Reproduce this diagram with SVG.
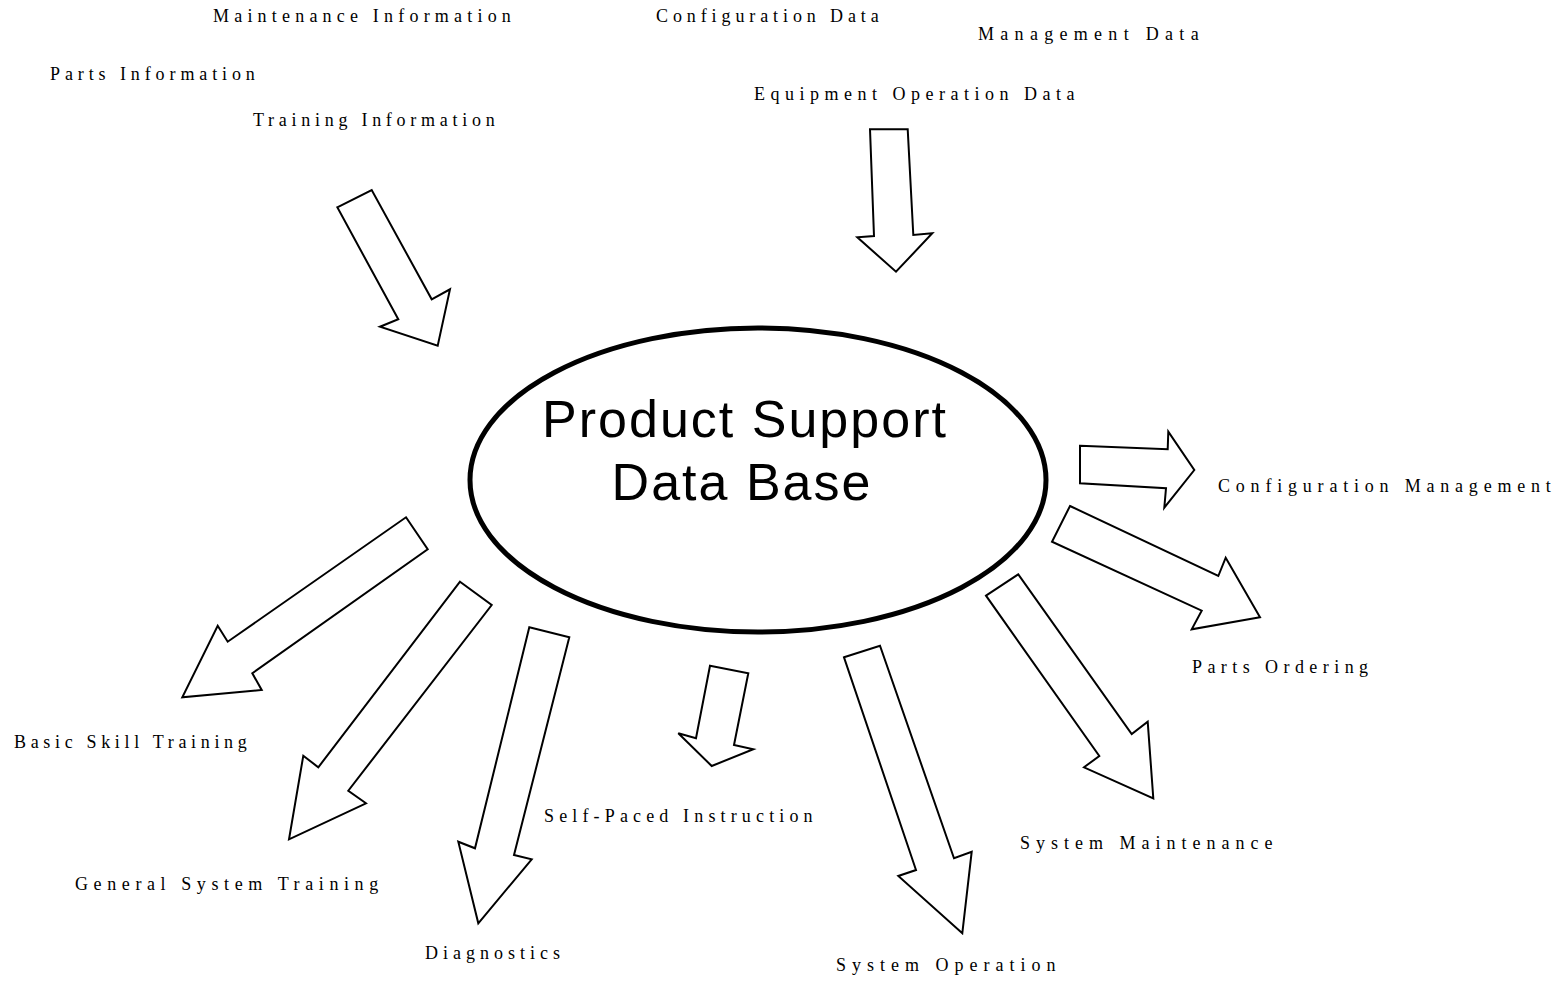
<svg xmlns="http://www.w3.org/2000/svg" width="1564" height="981" viewBox="0 0 1564 981">
<style>
.lbl{font-family:"Liberation Serif","Times New Roman",serif;font-size:18px;letter-spacing:5.2px;fill:#000}
.big{font-family:"Liberation Sans",Arial,sans-serif;font-size:52px;letter-spacing:2px;fill:#000;text-anchor:middle}
.arr{fill:#fff;stroke:#000;stroke-width:2;stroke-linejoin:miter}
</style>
<rect width="1564" height="981" fill="#fff"/>
<g id="db">
<ellipse cx="758" cy="480" rx="288" ry="152" fill="#fff" stroke="#000" stroke-width="5"/>
<text class="big" x="745" y="437">Product Support</text>
<text class="big" x="742" y="500">Data Base</text>
</g>
<g id="connectors">
<polygon class="arr" points="337.3,207.3 371.7,190 431.7,299.3 450,289.3 437.7,345.7 380,326.7 398.3,319.3"/>
<polygon class="arr" points="870,129.3 907.7,129.3 913.3,235 932.3,233.3 896,271.7 857.3,237.3 874,236"/>
<polygon class="arr" points="1080,445.7 1167.7,449.3 1168.3,431.7 1194.3,470 1164.3,507.7 1166,488.3 1080,483.3"/>
<polygon class="arr" points="1070,506 1218.3,576 1225.7,557.7 1260,617.3 1191.7,629.3 1201.7,610.7 1052,541.7"/>
<polygon class="arr" points="406,517.3 427.7,549.3 252.3,673.3 261.7,690 182.3,697.3 217.7,625.7 227.7,641.7"/>
<polygon class="arr" points="460,581.7 491.7,605 348.3,790.7 366,803.3 289,839.3 303.3,755.7 318.3,767.3"/>
<polygon class="arr" points="529.3,627.3 569.3,637.3 514,855 531.7,859.3 478.3,923.3 458.3,841.7 475,848.3"/>
<polygon class="arr" points="710,665.7 748.3,673.3 734,745 753.3,749.3 711.7,766 678.3,733.3 696,738.3"/>
<polygon class="arr" points="844,657.3 880,645.7 954,858.3 971.7,851.7 962.3,933.3 898.3,876 916,870"/>
<polygon class="arr" points="986,595.7 1018.3,574.3 1131.7,734 1147.7,721.7 1153.3,798.3 1084,767.3 1099.3,756"/>
</g>
<g id="labels-in">
<text class="lbl" x="213" y="22">Maintenance Information</text>
<text class="lbl" x="656" y="22" style="letter-spacing:4.9px">Configuration Data</text>
<text class="lbl" x="978" y="40" style="letter-spacing:6.3px">Management Data</text>
<text class="lbl" x="50" y="80" style="letter-spacing:4.9px">Parts Information</text>
<text class="lbl" x="754" y="100" style="letter-spacing:5.5px">Equipment Operation Data</text>
<text class="lbl" x="253" y="126" style="letter-spacing:4.73px">Training Information</text>
</g>
<g id="labels-out">
<text class="lbl" x="1218" y="492" style="letter-spacing:5.8px">Configuration Management</text>
<text class="lbl" x="1192" y="673" style="letter-spacing:5.43px">Parts Ordering</text>
<text class="lbl" x="14" y="748" style="letter-spacing:4.67px">Basic Skill Training</text>
<text class="lbl" x="544" y="822" style="letter-spacing:5.15px">Self-Paced Instruction</text>
<text class="lbl" x="1020" y="849" style="letter-spacing:6px">System Maintenance</text>
<text class="lbl" x="75" y="890" style="letter-spacing:5.6px">General System Training</text>
<text class="lbl" x="425" y="959" style="letter-spacing:5px">Diagnostics</text>
<text class="lbl" x="836" y="971" style="letter-spacing:6px">System Operation</text>
</g>
</svg>
